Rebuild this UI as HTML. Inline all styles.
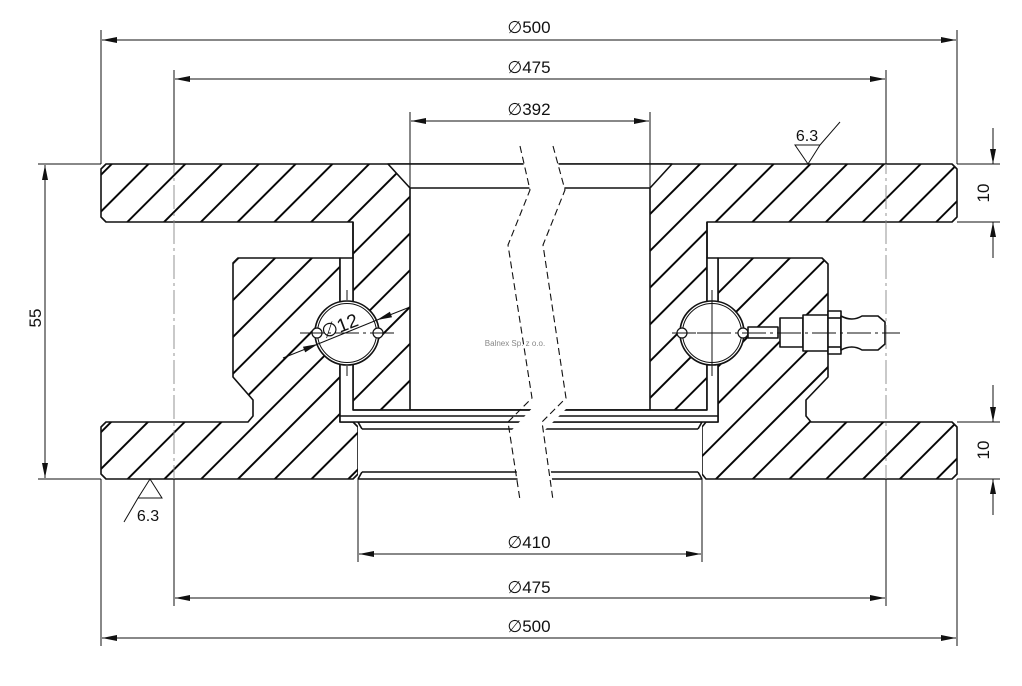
<!DOCTYPE html>
<html><head><meta charset="utf-8"><style>
html,body{margin:0;padding:0;background:#fff;}
svg{display:block;}
text{font-family:"Liberation Sans","DejaVu Sans",sans-serif;fill:#111;}
</style></head><body>
<svg width="1022" height="686" viewBox="0 0 1022 686" xmlns="http://www.w3.org/2000/svg">
<defs>
<pattern id="h" patternUnits="userSpaceOnUse" width="26" height="26" patternTransform="rotate(45)">
<rect width="26" height="26" fill="#fff"/>
<line x1="13" y1="-1" x2="13" y2="27" stroke="#000" stroke-width="1.9"/>
</pattern>
<marker id="a" viewBox="0 0 10 4" refX="10" refY="2" markerWidth="18" markerHeight="6" markerUnits="userSpaceOnUse" orient="auto-start-reverse">
<path d="M0,0 L10,2 L0,4 z" fill="#111"/>
</marker>
</defs>
<rect width="1022" height="686" fill="#fff"/>

<g stroke="#111" stroke-width="1.6" stroke-linejoin="round">
<path fill="url(#h)" d="M106,164 L952,164 L957,169 L957,217 L952,222 L707,222 L707,416 L353,416 L353,222 L106,222 L101,217 L101,169 Z"/>
<path fill="#fff" d="M388,164 L672,164 L650,188 L650,410 L410,410 L410,188 Z"/>
<line x1="410" y1="188" x2="650" y2="188"/>
<path fill="url(#h)" d="M340,258 L238,258 L233,263 L233,377 L253,400 L253,416 L248,422 L106,422 L101,427 L101,474 L106,479 L353,479 L358,474 L358,427 L353,422 L340,422 Z"/>
<path fill="url(#h)" d="M718,258 L822,258 L828,264 L828,377 L806,400 L806,416 L811,422 L952,422 L957,427 L957,474 L952,479 L706,479 L702,474 L702,427 L706,422 L718,422 Z"/>
<path fill="#fff" d="M358,422 L702,422 L702,479 L358,479 Z" stroke="none"/>
<line x1="358" y1="422" x2="702" y2="422"/>
<line x1="358" y1="479" x2="702" y2="479"/>
<line x1="362" y1="429" x2="698" y2="429"/>
<line x1="362" y1="472" x2="698" y2="472"/>
<line x1="358" y1="422" x2="362" y2="429"/><line x1="702" y1="422" x2="698" y2="429"/>
<line x1="358" y1="479" x2="362" y2="472"/><line x1="702" y1="479" x2="698" y2="472"/>
<path fill="#fff" d="M340,258 L353,258 L353,410 L707,410 L707,258 L718,258 L718,422 L340,422 Z"/>
<line x1="353" y1="410" x2="707" y2="410"/>
<line x1="340" y1="416" x2="718" y2="416"/>
<line x1="353" y1="222" x2="353" y2="258"/><line x1="707" y1="222" x2="707" y2="258"/>
<circle cx="347" cy="333" r="32" fill="#fff"/>
<circle cx="347" cy="333" r="29.5" fill="none" stroke-width="1"/>
<circle cx="317" cy="333" r="5" fill="#fff" stroke-width="1.2"/>
<circle cx="378" cy="333" r="5" fill="#fff" stroke-width="1.2"/>
<circle cx="712" cy="333" r="32" fill="#fff"/>
<circle cx="712" cy="333" r="29.5" fill="none" stroke-width="1"/>
<circle cx="682" cy="333" r="5" fill="#fff" stroke-width="1.2"/>
<circle cx="743" cy="333" r="5" fill="#fff" stroke-width="1.2"/>
<rect x="748" y="327" width="30" height="11" fill="#fff"/>
<rect x="780" y="318" width="23" height="29" fill="#fff"/>
<rect x="803" y="315" width="25" height="36" fill="#fff"/>
<rect x="828" y="311" width="13" height="43" fill="#fff"/>
<line x1="828" y1="318" x2="841" y2="318"/><line x1="828" y1="347" x2="841" y2="347"/>
<path fill="#fff" d="M841,316 Q852,322 862,316 L878,316 L885,322 L885,344 L878,350 L862,350 Q852,344 841,350 Z"/>
</g>

<path d="M520,150 L530,190 L510,245 L535,405 L512,430 L520,500 L555,500 L545,430 L570,405 L545,245 L565,190 L555,150 Z" fill="#fff"/>
<g stroke="#111" stroke-width="1.1" fill="none" stroke-dasharray="7,4">
<path d="M520,146 L530,190 L508,245 L532,398 L508,422 L520,500"/>
<path d="M553,146 L565,190 L543,245 L566,398 L542,422 L553,500"/>
</g>

<g stroke="#888" stroke-width="0.9" stroke-dasharray="24,4,3,4">
<line x1="174" y1="80" x2="174" y2="600"/>
<line x1="886" y1="80" x2="886" y2="600"/>
<line x1="300" y1="333" x2="395" y2="333" stroke="#111"/>
<line x1="672" y1="333" x2="900" y2="333" stroke="#111"/>
</g>
<g stroke="#111" stroke-width="1">
<line x1="712" y1="290" x2="712" y2="376"/><line x1="697" y1="333" x2="727" y2="333"/>
<line x1="347" y1="290" x2="347" y2="300"/><line x1="347" y1="366" x2="347" y2="376"/>
</g>

<g stroke="#111" stroke-width="1" fill="none">
<line x1="101" y1="30" x2="101" y2="164"/><line x1="957" y1="30" x2="957" y2="164"/>
<line x1="102" y1="40" x2="956" y2="40" marker-start="url(#a)" marker-end="url(#a)"/>
<line x1="174" y1="70" x2="174" y2="164"/><line x1="886" y1="70" x2="886" y2="164"/>
<line x1="175" y1="79" x2="885" y2="79" marker-start="url(#a)" marker-end="url(#a)"/>
<line x1="410" y1="112" x2="410" y2="188"/><line x1="650" y1="112" x2="650" y2="188"/>
<line x1="411" y1="121" x2="649" y2="121" marker-start="url(#a)" marker-end="url(#a)"/>
<line x1="101" y1="479" x2="101" y2="646"/><line x1="957" y1="479" x2="957" y2="646"/>
<line x1="102" y1="638" x2="956" y2="638" marker-start="url(#a)" marker-end="url(#a)"/>
<line x1="174" y1="479" x2="174" y2="606"/><line x1="886" y1="479" x2="886" y2="606"/>
<line x1="175" y1="598" x2="885" y2="598" marker-start="url(#a)" marker-end="url(#a)"/>
<line x1="358" y1="479" x2="358" y2="562"/><line x1="702" y1="479" x2="702" y2="562"/>
<line x1="359" y1="554" x2="701" y2="554" marker-start="url(#a)" marker-end="url(#a)"/>
<line x1="38" y1="164" x2="101" y2="164"/><line x1="38" y1="479" x2="101" y2="479"/>
<line x1="45" y1="165" x2="45" y2="478" marker-start="url(#a)" marker-end="url(#a)"/>
<line x1="957" y1="164" x2="1000" y2="164"/><line x1="957" y1="222" x2="1000" y2="222"/>
<line x1="993" y1="128" x2="993" y2="164" marker-end="url(#a)"/>
<line x1="993" y1="258" x2="993" y2="222" marker-end="url(#a)"/>
<line x1="957" y1="422" x2="1000" y2="422"/><line x1="957" y1="479" x2="1000" y2="479"/>
<line x1="993" y1="385" x2="993" y2="422" marker-end="url(#a)"/>
<line x1="993" y1="515" x2="993" y2="479" marker-end="url(#a)"/>
<line x1="283" y1="358" x2="318" y2="344" marker-end="url(#a)"/>
<line x1="318" y1="344" x2="377" y2="320"/>
<line x1="410" y1="307" x2="377" y2="320" marker-end="url(#a)"/>
<path d="M795,145 L820,145 L808,164 Z M820,145 L840,122"/>
<path d="M138,498 L162,498 L150,479 Z M138,498 L124,522"/>
</g>

<g font-size="17">
<text x="529" y="33" text-anchor="middle"><tspan font-family="DejaVu Sans">∅</tspan>500</text>
<text x="529" y="73" text-anchor="middle"><tspan font-family="DejaVu Sans">∅</tspan>475</text>
<text x="529" y="115" text-anchor="middle"><tspan font-family="DejaVu Sans">∅</tspan>392</text>
<text x="529" y="548" text-anchor="middle"><tspan font-family="DejaVu Sans">∅</tspan>410</text>
<text x="529" y="593" text-anchor="middle"><tspan font-family="DejaVu Sans">∅</tspan>475</text>
<text x="529" y="632" text-anchor="middle"><tspan font-family="DejaVu Sans">∅</tspan>500</text>
<text x="807" y="141" text-anchor="middle" font-size="16">6.3</text>
<text x="148" y="521" text-anchor="middle" font-size="16">6.3</text>
<text transform="translate(41,318) rotate(-90)" text-anchor="middle">55</text>
<text transform="translate(989,193) rotate(-90)" text-anchor="middle">10</text>
<text transform="translate(989,450) rotate(-90)" text-anchor="middle">10</text>
<text transform="translate(342,332) rotate(-21)" text-anchor="middle" font-size="19"><tspan font-family="DejaVu Sans">∅</tspan>12</text>
</g>
<text x="515" y="346" text-anchor="middle" font-size="8" style="fill:#888">Balnex Sp. z o.o.</text>
</svg>
</body></html>
